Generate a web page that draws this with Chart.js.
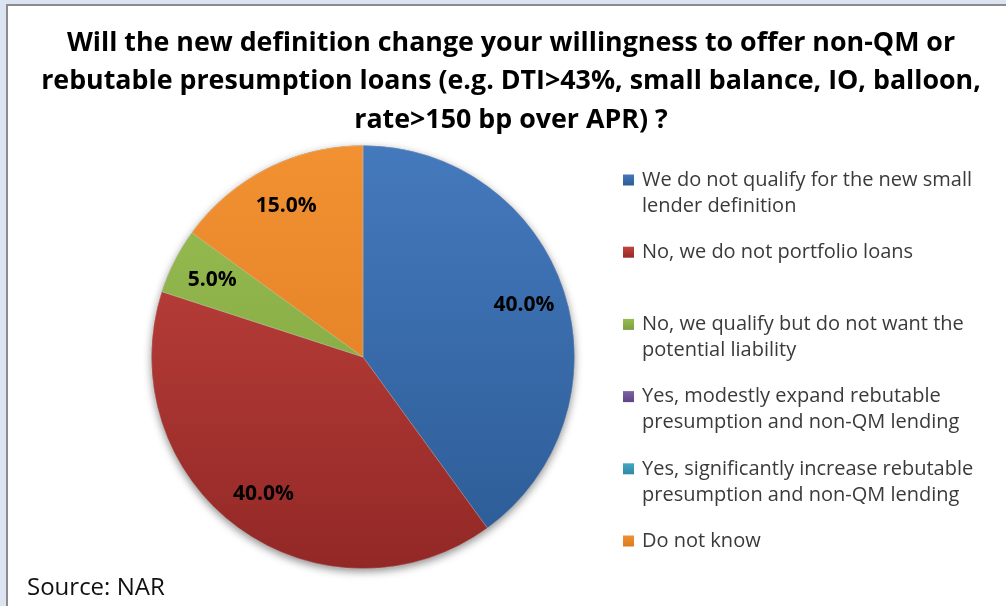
<!DOCTYPE html>
<html>
<head>
<meta charset="utf-8">
<script src="https://cdn.jsdelivr.net/npm/chart.js@4.4.1/dist/chart.umd.min.js"></script>
<style>
  html, body { margin: 0; padding: 0; width: 1006px; height: 606px; overflow: hidden; background: #dbe4f0; }
  #frame { position: absolute; left: 6px; top: 4px; width: 1010px; height: 610px; background: #fff; border-left: 2px solid #8c8c8c; border-top: 2px solid #8c8c8c; }
  #wrap { position: absolute; left: 0; top: 0; width: 1006px; height: 606px; }
</style>
</head>
<body>
<div id="frame"></div>
<div id="wrap"><canvas id="chart" width="1006" height="606"></canvas></div>
<script>
const titleLines = [
  "Will the new definition change your willingness to offer non-QM or",
  "rebutable presumption loans (e.g. DTI>43%, small balance, IO, balloon,",
  "rate>150 bp over APR) ?",
]

const categories = [
  ["We do not qualify for the new small", "lender definition"],
  ["No, we do not portfolio loans"],
  ["No, we qualify but do not want the", "potential liability"],
  ["Yes, modestly expand rebutable", "presumption and non-QM lending"],
  ["Yes, significantly increase rebutable", "presumption and non-QM lending"],
  ["Do not know"],
]

const shares = [40, 40, 5, 0, 0, 15]

const lightColors = ["#4479bd", "#c6453f", "#98bf52", "#8063a6", "#45a9c4", "#f29132"]
const darkColors = ["#2c5b95", "#922826", "#7c9e3d", "#5c4383", "#2e88a1", "#db791e"]

const sourceNote = "Source: NAR"

const fontFamily = "'Open Sans', sans-serif"

function sliceFill(ctx) {
  const area = ctx.chart.chartArea
  const i = ctx.dataIndex
  if (!area) return lightColors[i]
  const g = ctx.chart.ctx.createLinearGradient(0, area.top, 0, area.bottom)
  g.addColorStop(0, lightColors[i])
  g.addColorStop(1, darkColors[i])
  return g
}

const pieShadow = {
  id: "pieShadow",
  beforeDatasetsDraw(chart) {
    const arc = chart.getDatasetMeta(0).data[0]
    if (!arc) return
    const ctx = chart.ctx
    ctx.save()
    ctx.shadowColor = "rgba(0,0,0,0.45)"
    ctx.shadowBlur = 8
    ctx.shadowOffsetY = 3
    ctx.fillStyle = "#777"
    ctx.beginPath()
    ctx.arc(arc.x, arc.y, arc.outerRadius, 0, Math.PI * 2)
    ctx.fill()
    ctx.restore()
  },
}

const sliceLabels = {
  id: "sliceLabels",
  afterDatasetsDraw(chart) {
    const ctx = chart.ctx
    const meta = chart.getDatasetMeta(0)
    ctx.save()
    ctx.font = "bold 21px " + fontFamily
    ctx.fillStyle = "#000"
    ctx.textAlign = "center"
    ctx.textBaseline = "middle"
    meta.data.forEach((arc, i) => {
      if (!shares[i]) return
      const mid = (arc.startAngle + arc.endAngle) / 2
      const r = arc.outerRadius * 0.8
      ctx.fillText(shares[i].toFixed(1) + "%", arc.x + Math.cos(mid) * r, arc.y + Math.sin(mid) * r)
    })
    ctx.restore()
  },
}

const textBlocks = {
  id: "textBlocks",
  afterDraw(chart) {
    const ctx = chart.ctx
    ctx.save()

    // title
    ctx.font = "bold 26.8px " + fontFamily
    ctx.fillStyle = "#000"
    ctx.textAlign = "center"
    ctx.textBaseline = "middle"
    titleLines.forEach((line, i) => ctx.fillText(line, 511, 43 + i * 38.5))

    // legend
    ctx.font = "20px " + fontFamily
    ctx.textAlign = "left"
    categories.forEach((lines, i) => {
      const y = 180 + i * 72.2
      const g = ctx.createLinearGradient(0, y - 6, 0, y + 6)
      g.addColorStop(0, lightColors[i])
      g.addColorStop(1, darkColors[i])
      ctx.fillStyle = g
      ctx.fillRect(623, y - 5.5, 11, 11)
      ctx.fillStyle = "#3a3a3a"
      lines.forEach((line, j) => ctx.fillText(line, 642, y + j * 26))
    })

    // source
    ctx.font = "24px " + fontFamily
    ctx.fillStyle = "#111"
    ctx.fillText(sourceNote, 27, 588)
    ctx.restore()
  },
}

new Chart(document.getElementById("chart"), {
  type: "pie",
  data: {
    labels: categories.map(l => l.join(" ")),
    datasets: [{
      data: shares,
      backgroundColor: sliceFill,
      borderColor: "rgba(255,255,255,0.2)",
      borderWidth: 1,
      hoverOffset: 0,
    }],
  },
  options: {
    responsive: false,
    devicePixelRatio: 1,
    animation: false,
    events: [],
    layout: { padding: { left: 151, right: 431, top: 145, bottom: 37 } },
    plugins: {
      legend: { display: false },
      title: { display: false },
      tooltip: { enabled: false },
    },
  },
  plugins: [pieShadow, sliceLabels, textBlocks],
})
</script>
</body>
</html>
